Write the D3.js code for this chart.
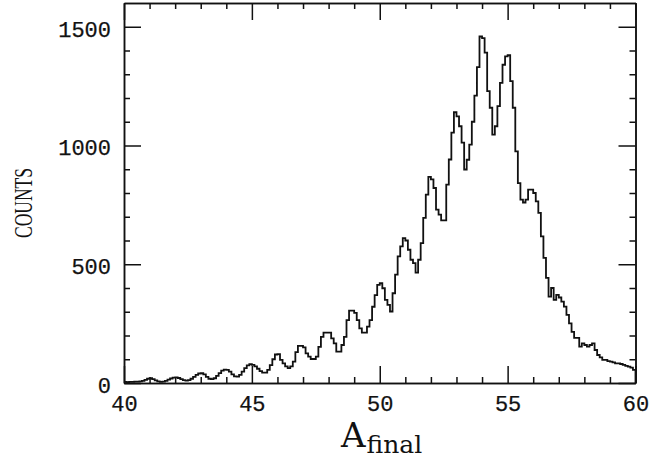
<!DOCTYPE html>
<html>
<head>
<meta charset="utf-8">
<script src="https://cdn.jsdelivr.net/npm/d3@7"></script>
<style>
  html, body { margin: 0; padding: 0; background: #fff; }
  svg { display: block; }
  .tick text { font-family: "Liberation Mono", monospace; font-size: 22px; fill: #111; stroke: #111; stroke-width: 0.25px; }
  .domain, .tick line { stroke: #111; stroke-width: 1.5; }
</style>
</head>
<body>
<svg id="chart" width="664" height="461"></svg>
<script>
// Histogram of final mass number, bins of 0.1 from 40 to 60
const binLow = 40, binHigh = 60, binWidth = 0.1;
const counts = [
  5, 4, 5, 5, 6, 6, 7, 9, 13, 18,              // 40
  20, 16, 11, 7, 5, 6, 9, 14, 19, 23,          // 41
  24, 21, 16, 12, 10, 12, 18, 26, 34, 40,      // 42
  41, 36, 26, 18, 16, 20, 30, 42, 52, 56,      // 43
  55, 48, 36, 28, 27, 34, 48, 63, 74, 79,      // 44
  76, 70, 60, 50, 44, 44, 55, 75, 100, 120,    // 45
  122, 97, 83, 70, 63, 70, 90, 130, 156, 156,  // 46
  150, 125, 111, 101, 101, 111, 152, 194, 212, 212, // 47
  212, 188, 167, 132, 132, 160, 194, 265, 305, 305, // 48
  295, 265, 230, 212, 212, 237, 265, 321, 370, 413, // 49
  420, 399, 350, 329, 301, 378, 456, 533, 575, 610, // 50
  600, 561, 519, 505, 465, 519, 589, 695, 793, 868, // 51
  857, 821, 730, 709, 685, 685, 835, 941, 1054, 1140, // 52
  1123, 1081, 1012, 899, 940, 1004, 1100, 1210, 1330, 1459, // 53
  1452, 1391, 1229, 1159, 1046, 1081, 1166, 1264, 1340, 1375, // 54
  1380, 1271, 1159, 975, 842, 772, 760, 772, 814, 814, // 55
  800, 765, 716, 617, 527, 443, 364, 400, 350, 371, // 56
  360, 343, 322, 287, 251, 215, 190, 190, 153, 167, // 57
  160, 153, 160, 167, 139, 118, 108, 97, 97, 92,    // 58
  90, 87, 83, 83, 80, 76, 72, 69, 65, 55            // 59
];
const xMajorTicks = [40, 45, 50, 55, 60];
const xMinorTicks = d3.range(41, 60).filter(v => v % 5 !== 0);
const yMajorTicks = [0, 500, 1000, 1500];
const yMinorTicks = d3.range(100, 1600, 100).filter(v => v % 500 !== 0);
const yLabel = "COUNTS";
const xLabelMain = "A";
const xLabelSub = "final";

const svg = d3.select("#chart");
const plotLeft = 124, plotRight = 635.5, plotTop = 3, plotBottom = 383;

const x = d3.scaleLinear().domain([binLow, binHigh]).range([plotLeft, plotRight]);
const y = d3.scaleLinear().domain([0, 1600]).range([plotBottom, plotTop]);

const majorLen = 17, minorLen = 6;

// bottom axis with labels, ticks pointing inward
svg.append("g").attr("transform", `translate(0,${plotBottom})`)
  .call(d3.axisBottom(x).tickValues(xMajorTicks).tickSize(-majorLen).tickSizeOuter(0).tickPadding(12).tickFormat(d3.format("d")));
svg.append("g").attr("transform", `translate(0,${plotBottom})`)
  .call(d3.axisBottom(x).tickValues(xMinorTicks).tickSize(-minorLen).tickSizeOuter(0).tickFormat(""));
// top axis
svg.append("g").attr("transform", `translate(0,${plotTop})`)
  .call(d3.axisTop(x).tickValues(xMajorTicks).tickSize(-majorLen).tickSizeOuter(0).tickFormat(""));
svg.append("g").attr("transform", `translate(0,${plotTop})`)
  .call(d3.axisTop(x).tickValues(xMinorTicks).tickSize(-minorLen).tickSizeOuter(0).tickFormat(""));
// left axis with labels
svg.append("g").attr("transform", `translate(${plotLeft},0)`)
  .call(d3.axisLeft(y).tickValues(yMajorTicks).tickSize(-majorLen).tickSizeOuter(0).tickPadding(13).tickFormat(d3.format("d")))
  .selectAll("text").attr("dy", "0.42em");
svg.append("g").attr("transform", `translate(${plotLeft},0)`)
  .call(d3.axisLeft(y).tickValues(yMinorTicks).tickSize(-minorLen).tickSizeOuter(0).tickFormat(""));
// right axis
svg.append("g").attr("transform", `translate(${plotRight},0)`)
  .call(d3.axisRight(y).tickValues(yMajorTicks).tickSize(-majorLen).tickSizeOuter(0).tickFormat(""));
svg.append("g").attr("transform", `translate(${plotRight},0)`)
  .call(d3.axisRight(y).tickValues(yMinorTicks).tickSize(-minorLen).tickSizeOuter(0).tickFormat(""));

// histogram outline
const pts = counts.map((c, i) => [binLow + i * binWidth, c]);
pts.push([binHigh, counts[counts.length - 1]]);
pts.push([binHigh, 0]);
const line = d3.line().x(d => x(d[0])).y(d => y(d[1])).curve(d3.curveStepAfter);
svg.append("path")
  .attr("d", line(pts))
  .attr("fill", "none")
  .attr("stroke", "#111")
  .attr("stroke-width", 1.8)
  .attr("stroke-linejoin", "miter");

// axis titles
svg.append("text")
  .attr("transform", "translate(32,203) rotate(-90)")
  .attr("text-anchor", "middle")
  .attr("font-family", "Liberation Serif, serif")
  .attr("font-size", 25)
  .attr("textLength", 70)
  .attr("lengthAdjust", "spacingAndGlyphs")
  .attr("fill", "#111")
  .text(yLabel);

const xt = svg.append("text")
  .attr("x", 341)
  .attr("y", 447)
  .attr("font-family", "DejaVu Serif, serif")
  .attr("fill", "#111");
xt.append("tspan").attr("font-size", 34).text(xLabelMain);
xt.append("tspan").attr("font-size", 25).attr("dy", 6).attr("dx", 1).text(xLabelSub);
</script>
</body>
</html>
